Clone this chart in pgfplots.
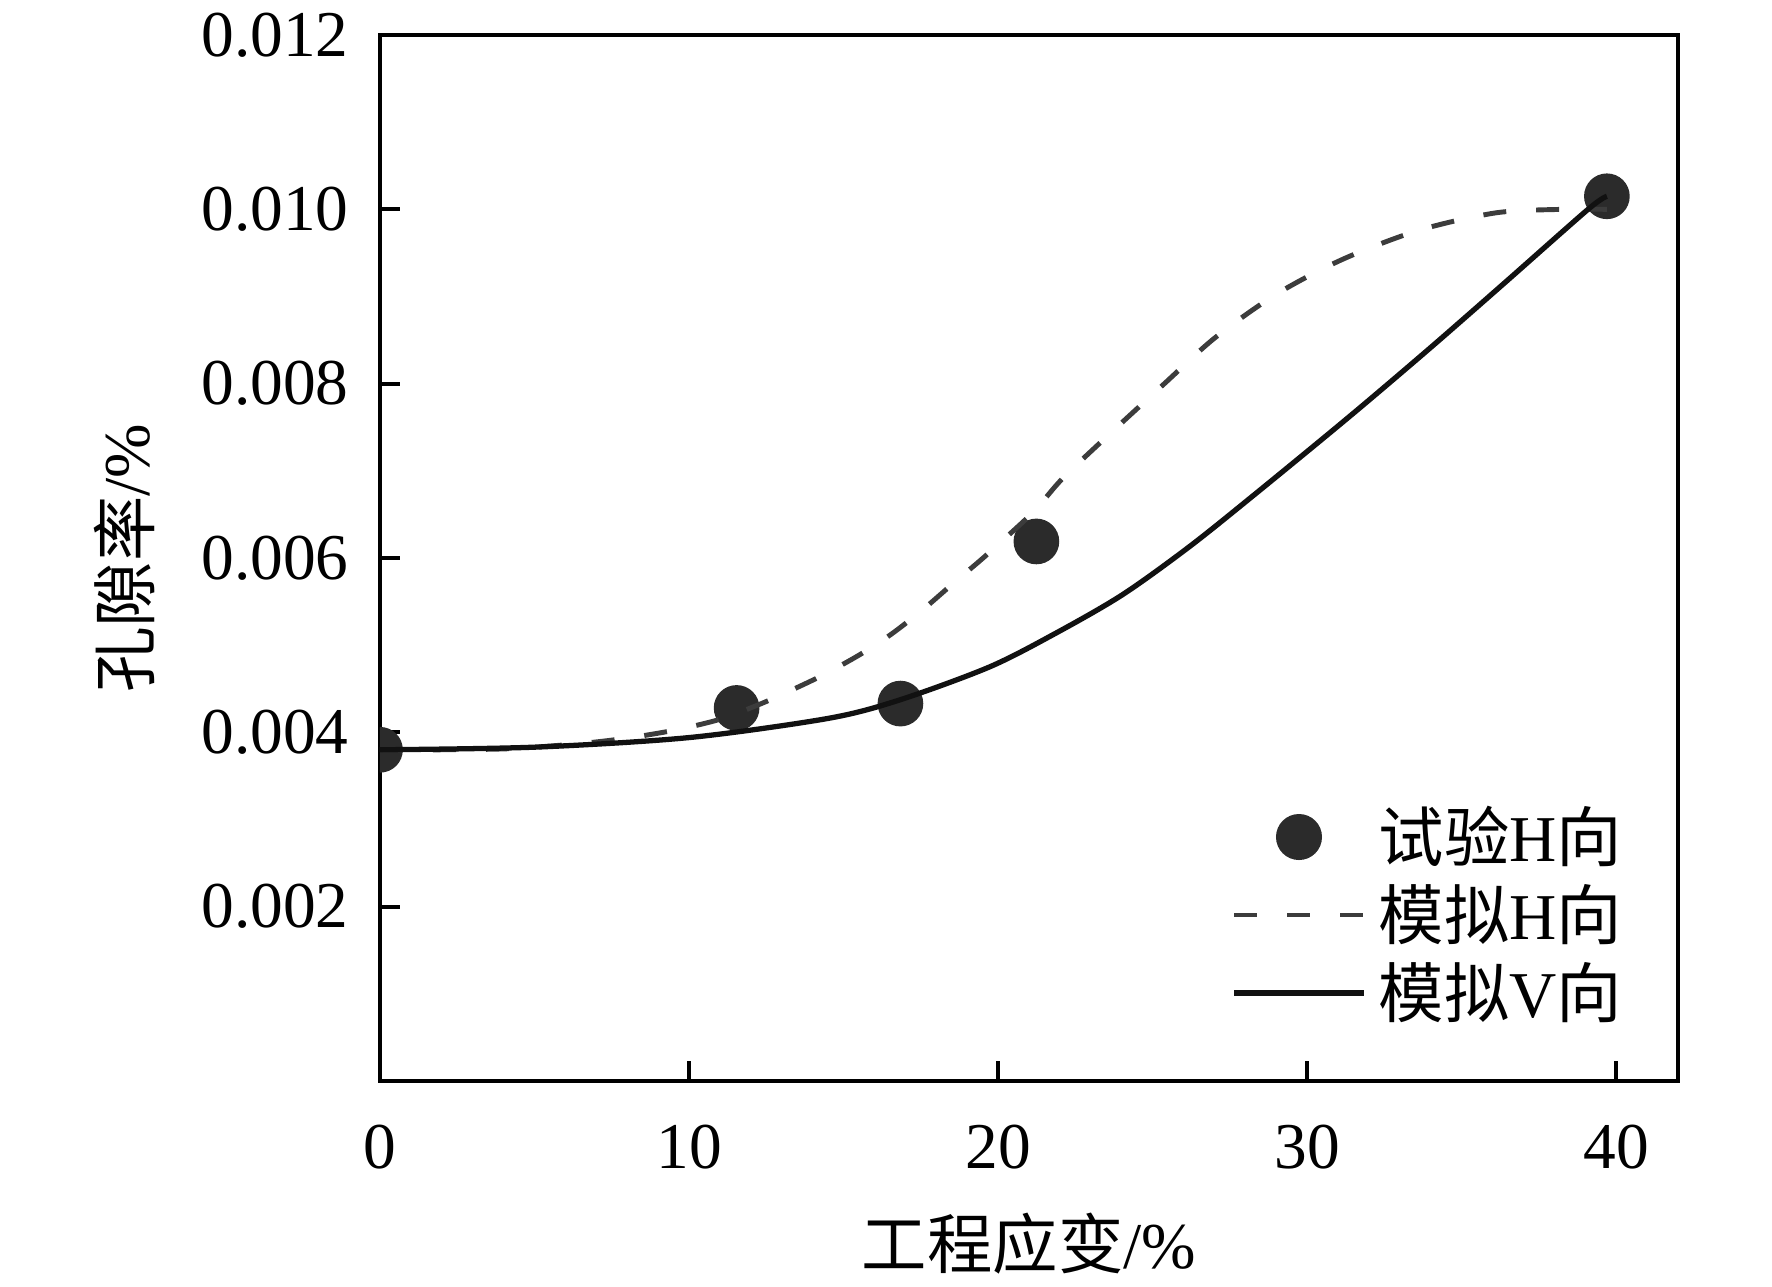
\documentclass[border=0pt]{standalone}
\usepackage{pgfplots}
\pgfplotsset{compat=1.18}
\usepackage{fontspec}
\setmainfont{Liberation Serif}
\newfontfamily\cjk{Noto Sans CJK SC}
\definecolor{markc}{HTML}{2B2B2B}
\definecolor{dashc}{HTML}{3C3C3C}
\definecolor{solc}{HTML}{111111}
\begin{document}
\fontsize{9.3}{11}\selectfont
\begin{tikzpicture}
\useasboundingbox (-19mm,-10.25mm) rectangle (69.6mm,54.05mm);
\begin{axis}[
  scale only axis, width=64.9mm, height=52.3mm,
  xmin=0, xmax=42, ymin=0, ymax=0.012,
  scaled y ticks=false, scaled x ticks=false,
  axis line style={line width=0.6pt, black},
  every tick/.style={line width=0.6pt, black},
  tick align=inside, tick pos=left, major tick length=1mm,
  xtick={0,10,20,30,40}, xticklabels={0,10,20,30,40},
  ytick={0.002,0.004,0.006,0.008,0.010,0.012},
  yticklabels={0.002,0.004,0.006,0.008,0.010,0.012},
  font=\fontsize{9.3}{11}\selectfont,
  xticklabel style={inner sep=0pt, anchor=north, yshift=-2.15mm},
  yticklabel style={inner sep=0pt, anchor=east, xshift=-1.5mm},
  xlabel={{\cjk 工程应变}/\%},
  ylabel={{\cjk 孔隙率}/\%},
  every axis x label/.style={at={(axis description cs:0.5,-0.155)}, anchor=center},
  every axis y label/.style={at={(axis description cs:-0.197,0.5)}, rotate=90, anchor=center},
  clip marker paths=true,
  legend cell align=left,
  legend style={draw=none, fill=none, inner sep=0pt, outer sep=0pt,
    at={(axis description cs:1,0)}, anchor=south east, xshift=-2.8mm, yshift=2.5mm,
    row sep=0.6mm,
    nodes={inner sep=0pt, text height=2.6mm, text depth=0.7mm, xshift=0.85mm}},
]
\addplot[only marks, mark=*, mark size=3.05pt, draw=markc, fill=markc,
  legend image code/.code={\path (0mm,0mm) (7.1mm,0mm);\fill[markc] (3.25mm,0.25mm) circle (1.08mm);}]
  coordinates {(0,0.00380) (11.54,0.00428) (16.84,0.00433) (21.24,0.00619) (39.7,0.01015)};
\addlegendentry{{\cjk 试验}H{\cjk 向}}
\addplot[smooth, dashc, line width=0.7pt, dash pattern=on 1.15mm off 1.5mm,
  legend image code/.code={\path (0mm,0mm) (7.1mm,0mm);\draw[dashc, line width=0.7pt, dash pattern=on 1.15mm off 1.5mm] (0mm,0.25mm) -- (6.5mm,0.25mm);}]
  coordinates {(0,0.00380) (2,0.00380) (4,0.00381) (5.4,0.00384) (7,0.00389) (8.3,0.00395)
  (9.6,0.00403) (11,0.00415) (12.34,0.00433) (13.35,0.00449) (14.35,0.00466) (15.52,0.00489)
  (16.52,0.00512) (17.54,0.00540) (18.55,0.00571) (19.45,0.00598) (20.27,0.00624) (21.2,0.00655)
  (22.08,0.00691) (23.57,0.00741) (25.38,0.00800) (27.03,0.00853) (29.02,0.00903) (31.17,0.00943)
  (33.62,0.00976) (36.11,0.00996) (38.25,0.01000) (39.7,0.01000)};
\addlegendentry{{\cjk 模拟}H{\cjk 向}}
\addplot[smooth, solc, line width=0.75pt,
  legend image code/.code={\path (0mm,0mm) (7.1mm,0mm);\draw[solc, line width=0.75pt] (0mm,0.25mm) -- (6.5mm,0.25mm);}]
  coordinates {(0,0.00380) (5,0.00383) (10,0.00394) (14.5,0.00416) (16.8,0.00437) (19.72,0.00475)
  (21.88,0.00514) (24.03,0.00558) (26.19,0.00613) (28.34,0.00674) (31.36,0.00762) (33.95,0.00840)
  (36.37,0.00915) (39.09,0.01000) (39.7,0.01015)};
\addlegendentry{{\cjk 模拟}V{\cjk 向}}
\end{axis}
\end{tikzpicture}
\end{document}
